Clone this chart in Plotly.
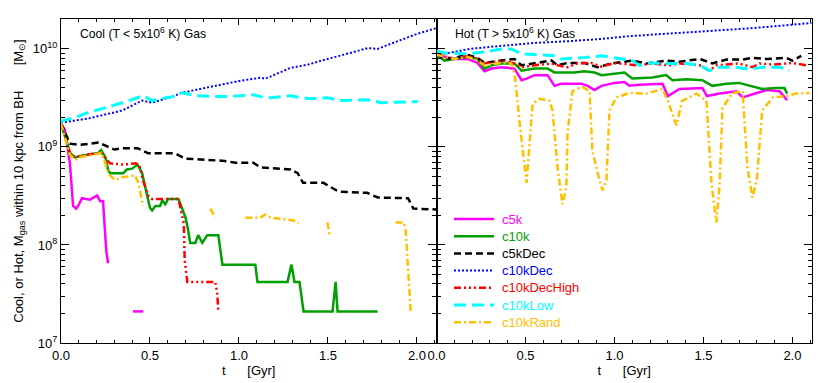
import plotly.graph_objects as go
from plotly.subplots import make_subplots

# ---- cool gas (left panel), M_sun ----
t_c5k_cool = [0, 0.023, 0.05, 0.068, 0.085, 0.096, 0.118, 0.163, 0.203, 0.22, 0.236, 0.245, 0.255, 0.265,
              None, 0.405, 0.462]
m_c5k_cool = [1.74e9, 1.48e9, 6.8e8, 2.5e8, 2.35e8, 2.5e8, 3.0e8, 2.9e8, 3.2e8, 2.8e8, 2.8e8, 1.5e8, 8.5e7, 6.5e7,
              None, 2.1e7, 2.1e7]

t_c10k_cool = [0, 0.05, 0.08, 0.11, 0.21, 0.225, 0.25, 0.265, 0.276, 0.35, 0.37, 0.40, 0.43, 0.456, 0.473,
               0.50, 0.512, 0.53, 0.557, 0.569, 0.586, 0.602, 0.66, 0.68, 0.70, 0.715, 0.726, 0.755, 0.771,
               0.794, 0.822, 0.884, 0.907, 1.092, 1.104, 1.273, 1.295, 1.312, 1.34, 1.363, 1.526, 1.543,
               1.554, 1.779]
m_c10k_cool = [1.74e9, 8.7e8, 7.8e8, 8.1e8, 8.7e8, 9.3e8, 7.8e8, 5.8e8, 5.4e8, 5.4e8, 5.9e8, 6.0e8, 6.6e8,
               5.4e8, 3.9e8, 2.4e8, 2.25e8, 2.5e8, 2.5e8, 2.85e8, 2.6e8, 2.95e8, 2.95e8, 2.4e8, 1.9e8, 1.4e8,
               1.05e8, 1.05e8, 1.26e8, 1.05e8, 1.26e8, 1.26e8, 6.3e7, 6.3e7, 4.2e7, 4.2e7, 6.3e7, 4.2e7,
               4.2e7, 2.1e7, 2.1e7, 4.2e7, 2.1e7, 2.1e7]

t_c5kDec_cool = [0, 0.05, 0.11, 0.21, 0.30, 0.34, 0.43, 0.49, 0.53, 0.64, 0.70, 0.81, 0.92, 0.98, 1.08, 1.12,
                 1.29, 1.33, 1.36, 1.475, 1.515, 1.56, 1.72, 1.78, 1.95, 1.98, 2.11]
m_c5kDec_cool = [1.74e9, 1.08e9, 1.05e9, 1.11e9, 9.4e8, 9.7e8, 9.7e8, 8.6e8, 8.6e8, 8.6e8, 7.6e8, 7.4e8,
                 7.2e8, 6.9e8, 6.9e8, 6.2e8, 5.9e8, 5.4e8, 4.3e8, 4.3e8, 3.9e8, 3.5e8, 3.4e8, 3.05e8,
                 3.0e8, 2.35e8, 2.3e8]

t_c10kDec_cool = [0, 0.006, 0.152, 0.248, 0.343, 0.456, 0.512, 0.625, 0.68, 0.81, 1.008, 1.12, 1.149,
                  1.289, 1.385, 1.498, 1.571, 1.627, 1.723, 1.779, 1.892, 2.005, 2.095, 2.11]
m_c10kDec_cool = [1.76e9, 1.77e9, 1.95e9, 2.14e9, 2.35e9, 2.97e9, 2.83e9, 3.26e9, 3.57e9, 4.0e9, 4.73e9,
                  5.08e9, 4.97e9, 6.4e9, 6.9e9, 7.9e9, 8.5e9, 9.1e9, 1.02e10, 1.0e10, 1.2e10, 1.43e10,
                  1.6e10, 1.63e10]

t_c10kDecHigh_cool = [0, 0.05, 0.08, 0.11, 0.21, 0.225, 0.25, 0.276, 0.35, 0.42, 0.44, 0.46, 0.49, 0.51,
                      0.66, 0.68, 0.69, 0.695, 0.71, 0.867, 0.878, 0.884]
m_c10kDecHigh_cool = [1.74e9, 8.7e8, 7.8e8, 8.1e8, 8.7e8, 8.9e8, 7.6e8, 6.8e8, 6.6e8, 6.8e8, 6.6e8, 4.6e8,
                      3.2e8, 2.95e8, 2.95e8, 2.1e8, 1.66e8, 7e7, 4.2e7, 4.2e7, 3.2e7, 2.1e7]

t_c10kLow_cool = [0.0, 0.006, 0.079, 0.152, 0.248, 0.343, 0.462, 0.512, 0.625, 0.68, 0.755, 0.907, 1.008,
                  1.08, 1.12, 1.177, 1.289, 1.346, 1.402, 1.498, 1.571, 1.723, 1.796, 2.005]
m_c10kLow_cool = [1.76e9, 1.85e9, 2.0e9, 2.24e9, 2.51e9, 2.82e9, 3.33e9, 2.97e9, 3.26e9, 3.57e9, 3.33e9,
                  3.26e9, 3.33e9, 3.41e9, 3.26e9, 3.18e9, 3.33e9, 3.18e9, 3.1e9, 3.18e9, 2.97e9, 3.03e9,
                  2.83e9, 2.9e9]

t_c10kRand_cool = [0, 0.05, 0.08, 0.11, 0.21, 0.225, 0.248, 0.265, 0.287, 0.304, 0.343, 0.417, 0.434, 0.456,
                   0.462, None, 0.839, 0.867, None, 1.036, 1.12, 1.149, 1.177, 1.306, 1.334, None, 1.497,
                   1.51, None, 1.88, 1.926, 1.937, 1.948, 1.965]
m_c10kRand_cool = [1.74e9, 8.3e8, 7.4e8, 7.9e8, 8.5e8, 8.7e8, 6.9e8, 5.4e8, 4.9e8, 4.6e8, 4.9e8, 5.1e8,
                   4.3e8, 2.85e8, 2.5e8, None, 2.35e8, 1.9e8, None, 1.9e8, 1.9e8, 2.05e8, 1.9e8, 1.78e8,
                   1.66e8, None, 1.7e8, 1.26e8, None, 1.7e8, 1.7e8, 1.41e8, 7e7, 2.1e7]

# ---- hot gas (right panel), M_sun ----
t_c5k_hot = [0, 0.10, 0.174, 0.23, 0.27, 0.31, 0.365, 0.438, 0.478, 0.51, 0.55, 0.624, 0.663, 0.70, 0.815,
             0.85, 0.888, 0.927, 1.0, 1.056, 1.084, 1.14, 1.27, 1.30, 1.365, 1.494, 1.52, 1.59, 1.685, 1.72,
             1.80, 1.854, 1.927, 1.955, 1.97]
m_c5k_hot = [8.7e9, 7.9e9, 7.9e9, 7.2e9, 5.9e9, 6.3e9, 6.5e9, 6.3e9, 4.8e9, 5.0e9, 5.4e9, 5.4e9, 4.2e9,
             4.4e9, 4.4e9, 4.2e9, 3.8e9, 4.2e9, 4.5e9, 4.6e9, 4.2e9, 4.3e9, 4.4e9, 3.3e9, 3.9e9, 4.0e9,
             3.3e9, 3.5e9, 3.7e9, 3.2e9, 3.55e9, 3.8e9, 3.7e9, 3.2e9, 3.0e9]

t_c10k_hot = [0, 0.045, 0.10, 0.174, 0.23, 0.27, 0.31, 0.365, 0.438, 0.478, 0.55, 0.624, 0.663, 0.775, 0.83,
              0.888, 0.927, 1.0, 1.056, 1.10, 1.213, 1.29, 1.326, 1.404, 1.494, 1.55, 1.63, 1.70, 1.76,
              1.83, 1.91, 1.955, 1.97]
m_c10k_hot = [8.7e9, 7.6e9, 7.9e9, 8.3e9, 7.9e9, 6.3e9, 6.8e9, 7.1e9, 7.1e9, 6.0e9, 6.3e9, 6.3e9, 5.75e9,
              5.75e9, 5.9e9, 5.75e9, 5.4e9, 5.6e9, 5.75e9, 5.0e9, 5.1e9, 5.4e9, 4.8e9, 4.9e9, 4.8e9,
              4.2e9, 4.4e9, 4.5e9, 4.2e9, 3.9e9, 4.0e9, 4.0e9, 3.5e9]

t_c5kDec_hot = [0, 0.045, 0.10, 0.174, 0.23, 0.27, 0.365, 0.438, 0.478, 0.55, 0.646, 0.68, 0.736, 0.83,
                0.905, 0.983, 1.10, 1.18, 1.29, 1.365, 1.48, 1.55, 1.63, 1.72, 1.775, 1.854, 1.966, 2.0,
                2.05]
m_c5kDec_hot = [8.9e9, 7.9e9, 8.1e9, 8.7e9, 8.1e9, 7.2e9, 7.6e9, 7.9e9, 6.8e9, 7.1e9, 7.6e9, 6.8e9,
                7.2e9, 7.2e9, 6.5e9, 7.1e9, 7.6e9, 7.1e9, 7.6e9, 7.4e9, 7.9e9, 7.1e9, 7.8e9, 7.8e9,
                8.1e9, 7.9e9, 8.1e9, 7.6e9, 8.5e9]

t_c10kDec_hot = [0, 0.03, 0.10, 0.185, 0.354, 0.55, 0.747, 0.916, 1.084, 1.253, 1.42, 1.59, 1.76, 1.93,
                 2.107]
m_c10kDec_hot = [9.5e9, 8.9e9, 9.3e9, 1.0e10, 1.07e10, 1.15e10, 1.2e10, 1.26e10, 1.35e10, 1.41e10,
                 1.48e10, 1.55e10, 1.62e10, 1.72e10, 1.84e10]

t_c10kDecHigh_hot = [0, 0.10, 0.174, 0.23, 0.27, 0.365, 0.438, 0.478, 0.55, 0.646, 0.68, 0.736, 0.79,
                     0.87, 0.927, 1.0, 1.124, 1.213, 1.31, 1.365, 1.48, 1.534, 1.573, 1.70, 1.775, 1.815,
                     1.89, 2.0, 2.08]
m_c10kDecHigh_hot = [8.9e9, 7.9e9, 8.5e9, 7.9e9, 7.1e9, 7.6e9, 7.1e9, 6.5e9, 6.8e9, 7.1e9, 6.8e9,
                     6.5e9, 7.1e9, 7.2e9, 6.6e9, 7.2e9, 6.8e9, 7.1e9, 6.8e9, 7.1e9, 6.8e9, 6.0e9,
                     6.8e9, 7.1e9, 6.5e9, 7.1e9, 6.9e9, 7.2e9, 6.8e9]

t_c10kLow_hot = [0, 0.045, 0.174, 0.27, 0.365, 0.42, 0.478, 0.55, 0.663, 0.70, 0.815, 0.927, 1.03, 1.10,
                 1.14, 1.197, 1.31, 1.405, 1.48, 1.534, 1.59, 1.685, 1.76, 1.83, 1.93, 1.983]
m_c10kLow_hot = [9.5e9, 9.1e9, 8.9e9, 9.3e9, 1.0e10, 1.0e10, 8.9e9, 8.7e9, 8.5e9, 7.9e9, 8.1e9, 8.5e9,
                 7.9e9, 7.6e9, 6.8e9, 7.2e9, 7.1e9, 7.1e9, 6.8e9, 6.0e9, 6.5e9, 6.5e9, 6.2e9, 6.5e9,
                 6.5e9, 6.0e9]

t_c10kRand_hot = [0, 0.10, 0.174, 0.23, 0.27, 0.365, 0.42, 0.44, 0.466, 0.506, 0.54, 0.58, 0.635, 0.652,
                  0.68, 0.708, 0.73, 0.736, 0.764, 0.82, 0.86, 0.876, 0.916, 0.933, 0.955, 0.972, 1.01,
                  1.084, 1.18, 1.27, 1.30, 1.348, 1.38, 1.46, 1.517, 1.545, 1.573, 1.59, 1.607, 1.663,
                  1.72, 1.747, 1.775, 1.80, 1.83, 1.89, 1.966, 2.02, 2.096]
m_c10kRand_hot = [8.7e9, 7.9e9, 8.3e9, 7.6e9, 6.8e9, 7.2e9, 7.1e9, 5.4e9, 1.86e9, 4.3e8, 2.75e9, 3.1e9,
                  2.95e9, 2.35e9, 6.2e8, 2.6e8, 3.9e8, 1.38e9, 3.7e9, 4.1e9, 3.7e9, 9.1e8, 4.6e8, 3.6e8,
                  4.6e8, 2.35e9, 3.2e9, 3.55e9, 3.5e9, 3.9e9, 2.95e9, 1.66e9, 2.95e9, 3.5e9, 2.95e9,
                  4.3e8, 1.7e8, 3.9e8, 2.5e9, 3.55e9, 3.7e9, 6.2e8, 3.05e8, 4.6e8, 2.35e9, 3.2e9,
                  3.3e9, 3.5e9, 3.55e9]

runs = [
    # name, colour, width, dash, cool t, cool M, hot t, hot M
    ('c5k', '#ff00ff', 2.5, 'solid', t_c5k_cool, m_c5k_cool, t_c5k_hot, m_c5k_hot),
    ('c10k', '#00a000', 2.5, 'solid', t_c10k_cool, m_c10k_cool, t_c10k_hot, m_c10k_hot),
    ('c5kDec', '#000000', 2.5, '7px,4px', t_c5kDec_cool, m_c5kDec_cool, t_c5kDec_hot, m_c5kDec_hot),
    ('c10kDec', '#0000ff', 2, '2px,2px', t_c10kDec_cool, m_c10kDec_cool, t_c10kDec_hot, m_c10kDec_hot),
    ('c10kDecHigh', '#ff0000', 2.5, '7px,3px,2px,3px,2px,3px,2px,3px',
     t_c10kDecHigh_cool, m_c10kDecHigh_cool, t_c10kDecHigh_hot, m_c10kDecHigh_hot),
    ('c10kLow', '#00ffff', 3, '12px,6px', t_c10kLow_cool, m_c10kLow_cool, t_c10kLow_hot, m_c10kLow_hot),
    ('c10kRand', '#ffc000', 2.5, '7px,3px,2px,3px',
     t_c10kRand_cool, m_c10kRand_cool, t_c10kRand_hot, m_c10kRand_hot),
]

FONT = 'Liberation Sans, Arial, sans-serif'
# the page body has an 8px margin, so the figure is shrunk by that much and the margins shifted
PAGE = 8
W, H = 830 - PAGE, 383 - PAGE
ML, MR, MT, MB = 61 - PAGE, 18, 19 - PAGE, 40


def px_x(px):
    return (px - PAGE - ML) / (W - ML - MR)


def px_y(py):
    return (H - MB - (py - PAGE)) / (H - MT - MB)


fig = make_subplots(rows=1, cols=2, horizontal_spacing=0)

for i, (name, col, w, dash, tc, mc, th, mh) in enumerate(runs):
    line = dict(color=col, width=w, dash=dash)
    fig.add_trace(go.Scatter(x=tc, y=mc, mode='lines', name=name, line=line, connectgaps=False,
                             showlegend=False), row=1, col=1)
    fig.add_trace(go.Scatter(x=th, y=mh, mode='lines', name=name, line=line, connectgaps=False,
                             showlegend=False), row=1, col=2)
    # hand-made legend entry (line sample + coloured label) in the right panel
    ly = px_y(219 + i * 17.2)
    fig.add_shape(type='line', xref='paper', yref='paper', x0=px_x(454), x1=px_x(494), y0=ly, y1=ly,
                  line=line)
    fig.add_annotation(text=name, xref='paper', yref='paper', x=px_x(500), y=ly, xanchor='left',
                       yanchor='middle', showarrow=False, font=dict(size=13, color=col))

major_y = [1e7, 1e8, 1e9, 1e10]
major_y_text = ['10<sup>7</sup>', '10<sup>8</sup>', '10<sup>9</sup>', '10<sup>10</sup>']
minor_y = [k * 10 ** e for e in range(7, 11) for k in range(2, 10)]

gyr = '\u00a0' * 6
xaxis_common = dict(range=[0, 2.11], tickvals=[0, 0.5, 1.0, 1.5, 2.0], tickformat='.1f',
                    ticks='inside', ticklen=6, tickcolor='black', showline=True, linecolor='black',
                    linewidth=1.3, mirror='ticks', showgrid=False, zeroline=False, automargin=False,
                    minor=dict(ticks='inside', ticklen=3, dtick=0.1, tick0=0, tickcolor='black'),
                    title=dict(text=f't{gyr}[Gyr]', standoff=4, font=dict(size=13)),
                    tickfont=dict(size=13))
yaxis_common = dict(type='log', range=[7, 10.305], tickvals=major_y, ticktext=major_y_text,
                    ticks='inside', ticklen=8, tickcolor='black', showline=True, linecolor='black',
                    linewidth=1.3, mirror='ticks', showgrid=False, zeroline=False, automargin=False,
                    minor=dict(ticks='inside', ticklen=4, tickvals=minor_y, tickcolor='black'),
                    tickfont=dict(size=13))

fig.update_xaxes(domain=[0, 0.5], **xaxis_common, row=1, col=1)
fig.update_xaxes(domain=[0.5, 1], **xaxis_common, row=1, col=2)
fig.update_yaxes(**yaxis_common, row=1, col=1,
                 title=dict(text='Cool, or Hot, M<sub>gas</sub> within 10 kpc from BH'
                                 + '\u00a0' * 7 + '[M<sub>\u2299</sub>]',
                            standoff=6, font=dict(size=13)))
fig.update_yaxes(**yaxis_common, row=1, col=2, showticklabels=False)

fig.add_annotation(text='Cool (T &lt; 5x10<sup>6</sup> K) Gas', xref='x domain', yref='y domain',
                   x=0.045, y=0.957, xanchor='left', yanchor='middle', showarrow=False,
                   font=dict(size=12.2))
fig.add_annotation(text='Hot (T &gt; 5x10<sup>6</sup> K) Gas', xref='x2 domain', yref='y2 domain',
                   x=0.045, y=0.957, xanchor='left', yanchor='middle', showarrow=False,
                   font=dict(size=12.2))

fig.update_layout(
    width=W, height=H,
    margin=dict(l=ML, r=MR, t=MT, b=MB),
    plot_bgcolor='white', paper_bgcolor='white',
    font=dict(family=FONT, color='black', size=13),
    showlegend=False,
)

fig.write_html('out.html')
